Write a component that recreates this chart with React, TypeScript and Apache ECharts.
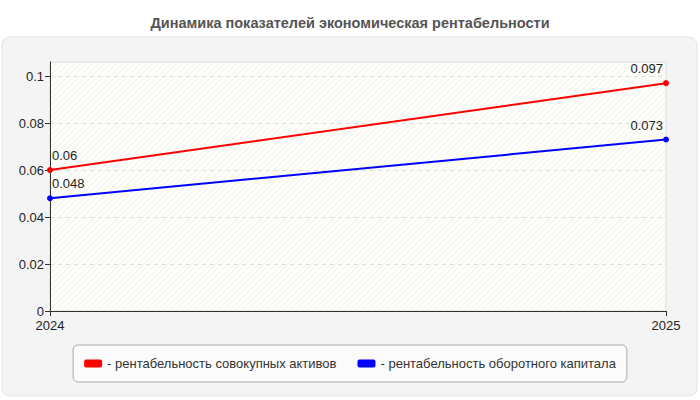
import { useEffect, useRef } from 'react';
import * as echarts from 'echarts';

const years = ['2024', '2025'];
const assetsReturn = [0.06, 0.097];
const capitalReturn = [0.048, 0.073];
const yTicks = [0, 0.02, 0.04, 0.06, 0.08, 0.1];
const seriesNames = ['рентабельность совокупных активов', 'рентабельность оборотного капитала'];
const titleText = 'Динамика показателей экономическая рентабельности';

const FONT = 'Arial, "Liberation Sans", sans-serif';

function hatchPattern() {
  const c = document.createElement('canvas');
  c.width = 6;
  c.height = 6;
  const ctx = c.getContext('2d')!;
  ctx.fillStyle = '#fdfdfa';
  ctx.fillRect(0, 0, 6, 6);
  ctx.strokeStyle = 'rgba(0,0,0,0.05)';
  ctx.lineWidth = 1;
  ctx.beginPath();
  ctx.moveTo(0, 6);
  ctx.lineTo(6, 0);
  ctx.stroke();
  return { image: c.toDataURL(), repeat: 'repeat' as const };
}

function pointLabels(values: number[]) {
  return values.map((v, i) => ({
    value: v,
    label: {
      show: true,
      position: 'top' as const,
      distance: 5,
      align: i === 0 ? 'left' : 'right',
      offset: i === 0 ? [2, 0] : [-3, 0],
      color: '#222',
      fontSize: 13,
      fontFamily: FONT
    }
  }));
}

export default function App() {
  const ref = useRef<HTMLDivElement | null>(null);

  useEffect(() => {
    document.body.style.margin = '0';
    if (!ref.current) return undefined;
    const chart = echarts.init(ref.current, null, { renderer: 'svg' });

    chart.setOption({
      animation: false,
      textStyle: { fontFamily: FONT },
      title: {
        text: titleText,
        left: 'center',
        top: 10,
        textStyle: { fontSize: 14.5, fontWeight: 'bold', color: '#555', fontFamily: FONT }
      },
      graphic: [
        {
          type: 'rect',
          z: -10,
          silent: true,
          shape: { x: 2, y: 37, width: 695, height: 359, r: 8 },
          style: { fill: '#f4f4f4', stroke: '#e3e3e3', lineWidth: 1 }
        }
      ],
      grid: {
        left: 50,
        right: 34,
        top: 62,
        bottom: 89,
        show: true,
        borderColor: '#ddd',
        borderWidth: 1,
        backgroundColor: hatchPattern()
      },
      xAxis: {
        type: 'category',
        data: years,
        boundaryGap: false,
        axisLine: { lineStyle: { color: '#333' } },
        axisTick: { show: true, length: 5, lineStyle: { color: '#333' } },
        axisLabel: { color: '#222', fontSize: 13, margin: 8, fontFamily: FONT },
        splitLine: { show: false }
      },
      yAxis: {
        type: 'value',
        min: 0,
        max: 0.106,
        interval: 0.02,
        axisLine: { show: true, lineStyle: { color: '#333' } },
        axisTick: { show: true, length: 5, lineStyle: { color: '#333' }, customValues: yTicks },
        axisLabel: { color: '#222', fontSize: 13, margin: 6, fontFamily: FONT, customValues: yTicks },
        splitLine: { show: true, lineStyle: { color: '#ddd', type: [4, 4] } }
      },
      legend: {
        left: 'center',
        top: 345,
        padding: [12, 11],
        itemGap: 21,
        itemWidth: 18,
        itemHeight: 8,
        icon: 'roundRect',
        backgroundColor: '#fbfbfb',
        borderColor: '#aaa',
        borderWidth: 1,
        borderRadius: 5,
        formatter: (name: string) => '- ' + name,
        textStyle: { color: '#333', fontSize: 13, fontFamily: FONT },
        data: seriesNames
      },
      series: [
        {
          name: seriesNames[0],
          type: 'line',
          data: pointLabels(assetsReturn),
          symbol: 'circle',
          symbolSize: 6,
          color: '#ff0000',
          lineStyle: { width: 2, color: '#ff0000' }
        },
        {
          name: seriesNames[1],
          type: 'line',
          data: pointLabels(capitalReturn),
          symbol: 'circle',
          symbolSize: 6,
          color: '#0000ff',
          lineStyle: { width: 2, color: '#0000ff' }
        }
      ]
    });

    return () => chart.dispose();
  }, []);

  return <div ref={ref} style={{ width: 700, height: 400 }} />;
}
